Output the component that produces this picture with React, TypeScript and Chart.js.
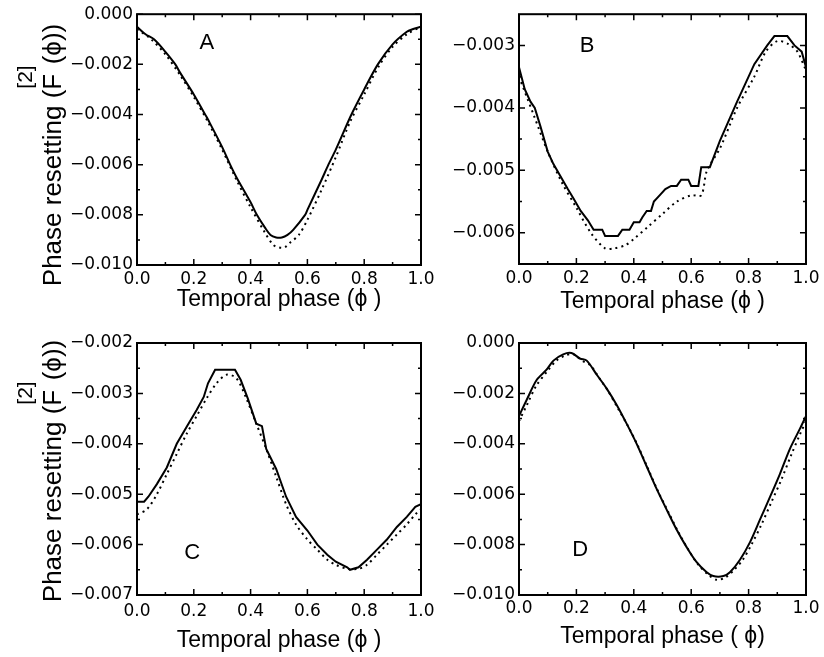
import React, { useEffect, useRef } from 'react';
import { Chart, registerables } from 'chart.js';
Chart.register(...registerables);

// ---------- shared ticks ----------
const xMajorTicks = [0, 0.2, 0.4, 0.6, 0.8, 1.0];
const xMinorTicks = [0.1, 0.3, 0.5, 0.7, 0.9];

// ---------- Panel A ----------
const phaseA_solid = [0, 0.03, 0.06, 0.1, 0.135, 0.15, 0.2, 0.24, 0.25, 0.3, 0.328, 0.35, 0.4, 0.422, 0.45, 0.47, 0.49, 0.51, 0.53, 0.55, 0.592, 0.6, 0.65, 0.674, 0.7, 0.755, 0.8, 0.848, 0.9, 0.95, 0.97, 1.0];
const valueA_solid = [-0.0005, -0.0008, -0.001, -0.0015, -0.002, -0.0023, -0.0032, -0.004, -0.0042, -0.0053, -0.006, -0.0065, -0.0075, -0.008, -0.0085, -0.0088, -0.0089, -0.0089, -0.0088, -0.0086, -0.008, -0.0078, -0.0066, -0.006, -0.0054, -0.004, -0.003, -0.002, -0.0012, -0.0007, -0.0006, -0.0005];
const phaseA_dotted = [0, 0.05, 0.1, 0.15, 0.2, 0.25, 0.3, 0.35, 0.4, 0.45, 0.48, 0.5, 0.52, 0.54, 0.57, 0.6, 0.65, 0.7, 0.75, 0.8, 0.85, 0.9, 0.95, 1.0];
const valueA_dotted = [-0.0006, -0.001, -0.0016, -0.0024, -0.0033, -0.0043, -0.0054, -0.0066, -0.0077, -0.0087, -0.0092, -0.0093, -0.0093, -0.0091, -0.0088, -0.0082, -0.007, -0.0057, -0.0043, -0.0032, -0.0021, -0.0013, -0.0008, -0.0005];
const yMajorA = [0, -0.002, -0.004, -0.006, -0.008, -0.01];
const yMinorA = [-0.001, -0.003, -0.005, -0.007, -0.009];

// ---------- Panel B ----------
const phaseB_solid = [0, 0.02, 0.04, 0.055, 0.075, 0.1, 0.12, 0.145, 0.17, 0.19, 0.215, 0.24, 0.26, 0.29, 0.3, 0.345, 0.36, 0.385, 0.4, 0.42, 0.43, 0.445, 0.46, 0.47, 0.49, 0.51, 0.53, 0.55, 0.565, 0.59, 0.6, 0.625, 0.635, 0.665, 0.7, 0.76, 0.82, 0.865, 0.89, 0.935, 0.96, 0.985, 1.0];
const valueB_solid = [-0.00335, -0.0037, -0.0039, -0.004, -0.0043, -0.0047, -0.0049, -0.0051, -0.0053, -0.00545, -0.00565, -0.0058, -0.00595, -0.00595, -0.00605, -0.00605, -0.00595, -0.00595, -0.00583, -0.00583, -0.00575, -0.00565, -0.00565, -0.0055, -0.0054, -0.0053, -0.00525, -0.00525, -0.00515, -0.00515, -0.00525, -0.00525, -0.00495, -0.00495, -0.00453, -0.0039, -0.0033, -0.003, -0.00285, -0.00285, -0.003, -0.0031, -0.00335];
const phaseB_dotted = [0, 0.05, 0.1, 0.15, 0.2, 0.25, 0.3, 0.33, 0.37, 0.4, 0.45, 0.5, 0.55, 0.6, 0.635, 0.655, 0.7, 0.76, 0.82, 0.86, 0.9, 0.94, 0.97, 1.0];
const valueB_dotted = [-0.0035, -0.0041, -0.0047, -0.0052, -0.0056, -0.006, -0.00625, -0.00625, -0.0062, -0.0061, -0.0059, -0.0057, -0.0055, -0.0054, -0.0054, -0.005, -0.00465, -0.004, -0.0035, -0.0031, -0.00293, -0.00298, -0.0031, -0.0034];
const yMajorB = [-0.003, -0.004, -0.005, -0.006];
const yMinorB = [-0.0035, -0.0045, -0.0055];

// ---------- Panel C ----------
const phaseC_solid = [0, 0.025, 0.04, 0.07, 0.105, 0.14, 0.175, 0.21, 0.235, 0.25, 0.275, 0.345, 0.365, 0.39, 0.42, 0.44, 0.455, 0.49, 0.525, 0.56, 0.6, 0.635, 0.67, 0.7, 0.74, 0.75, 0.78, 0.81, 0.845, 0.88, 0.915, 0.95, 0.98, 1.0];
const valueC_solid = [-0.00515, -0.00515, -0.00505, -0.0048, -0.00447, -0.004, -0.00366, -0.00333, -0.00307, -0.0028, -0.00253, -0.00253, -0.00273, -0.0031, -0.0036, -0.00365, -0.0041, -0.0045, -0.00505, -0.00545, -0.00572, -0.006, -0.0062, -0.00634, -0.00645, -0.0065, -0.00645, -0.0063, -0.0061, -0.0059, -0.00565, -0.00545, -0.00525, -0.0052];
const phaseC_dotted = [0, 0.035, 0.07, 0.105, 0.14, 0.175, 0.21, 0.245, 0.28, 0.315, 0.35, 0.385, 0.42, 0.455, 0.49, 0.525, 0.56, 0.6, 0.635, 0.67, 0.7, 0.74, 0.78, 0.81, 0.845, 0.88, 0.915, 0.95, 0.98, 1.0];
const valueC_dotted = [-0.0054, -0.0053, -0.005, -0.0046, -0.0042, -0.0038, -0.00345, -0.0031, -0.0028, -0.00263, -0.0027, -0.0031, -0.0036, -0.0041, -0.00465, -0.0052, -0.0056, -0.0059, -0.0061, -0.0063, -0.0064, -0.00648, -0.00648, -0.0064, -0.0062, -0.006, -0.0058, -0.0056, -0.0054, -0.0053];
const yMajorC = [-0.002, -0.003, -0.004, -0.005, -0.006, -0.007];
const yMinorC = [-0.0025, -0.0035, -0.0045, -0.0055, -0.0065];

// ---------- Panel D ----------
const phaseD_solid = [0, 0.027, 0.062, 0.096, 0.12, 0.154, 0.183, 0.213, 0.236, 0.271, 0.305, 0.34, 0.375, 0.41, 0.445, 0.48, 0.514, 0.549, 0.584, 0.619, 0.654, 0.677, 0.712, 0.735, 0.77, 0.805, 0.84, 0.875, 0.909, 0.944, 0.979, 1.0];
const valueD_solid = [-0.0029, -0.00225, -0.00146, -0.00106, -0.0007, -0.00045, -0.0004, -0.00062, -0.0007, -0.00126, -0.0018, -0.00245, -0.0032, -0.004, -0.0049, -0.0058, -0.0066, -0.0074, -0.0081, -0.0087, -0.0091, -0.00925, -0.00925, -0.0091, -0.0086, -0.0079, -0.007, -0.0061, -0.0052, -0.0042, -0.0034, -0.0029];
const phaseD_dotted = [0, 0.03, 0.06, 0.1, 0.13, 0.16, 0.19, 0.22, 0.25, 0.28, 0.31, 0.345, 0.38, 0.415, 0.45, 0.485, 0.52, 0.555, 0.59, 0.625, 0.66, 0.69, 0.72, 0.75, 0.78, 0.81, 0.845, 0.88, 0.915, 0.95, 0.98, 1.0];
const valueD_dotted = [-0.0031, -0.0024, -0.0017, -0.0011, -0.0007, -0.0005, -0.00045, -0.0007, -0.0009, -0.0014, -0.0019, -0.0026, -0.0033, -0.0041, -0.005, -0.0059, -0.0067, -0.0075, -0.0082, -0.0088, -0.0092, -0.0094, -0.0093, -0.009, -0.0086, -0.008, -0.0072, -0.0063, -0.0054, -0.0044, -0.0036, -0.0031];
const yMajorD = [0, -0.002, -0.004, -0.006, -0.008, -0.01];
const yMinorD = [-0.001, -0.003, -0.005, -0.007, -0.009];

const panelLetters = ['A', 'B', 'C', 'D'];
const xTitles = ['Temporal phase (\u03D5 )', 'Temporal phase (\u03D5 )', 'Temporal phase (\u03D5 )', 'Temporal phase ( \u03D5)'];
const yTitleMain = 'Phase resetting (F';
const yTitleLead = 'Phase resetting (';
const yTitleSup = '[2]';
const yTitleTail = '(\u03D5))';

const TICK_FONT = { family: '"DejaVu Sans", "Liberation Sans", Arial, sans-serif', size: 17 };
const TITLE_FAMILY = '"Liberation Sans", Arial, Helvetica, sans-serif';

type Panel = {
  letter: string;
  xTitle: string;
  solidX: number[]; solidY: number[];
  dotX: number[]; dotY: number[];
  yMin: number; yMax: number;
  yMajor: number[]; yMinor: number[];
  area: { left: number; top: number; right: number; bottom: number };
  xTickPad: number; xAxisH: number;
  tension: number;
  letterAt: [number, number];
  yTitle: null | { baseX: number; centerY: number };
};

const W = 824, H = 657;

const panels: Panel[] = [
  {
    letter: panelLetters[0], xTitle: xTitles[0],
    solidX: phaseA_solid, solidY: valueA_solid, dotX: phaseA_dotted, dotY: valueA_dotted,
    yMin: -0.01, yMax: 0, yMajor: yMajorA, yMinor: yMinorA,
    area: { left: 137, top: 13, right: 421, bottom: 265 },
    xTickPad: 4, xAxisH: 46.5, tension: 0.3, letterAt: [0.246, -0.00115],
    yTitle: { baseX: 61, centerY: 155 },
  },
  {
    letter: panelLetters[1], xTitle: xTitles[1],
    solidX: phaseB_solid, solidY: valueB_solid, dotX: phaseB_dotted, dotY: valueB_dotted,
    yMin: -0.0065, yMax: -0.0025, yMajor: yMajorB, yMinor: yMinorB,
    area: { left: 519, top: 13, right: 806, bottom: 264 },
    xTickPad: 4.5, xAxisH: 49.5, tension: 0, letterAt: [0.237, -0.00301],
    yTitle: null,
  },
  {
    letter: panelLetters[2], xTitle: xTitles[2],
    solidX: phaseC_solid, solidY: valueC_solid, dotX: phaseC_dotted, dotY: valueC_dotted,
    yMin: -0.007, yMax: -0.002, yMajor: yMajorC, yMinor: yMinorC,
    area: { left: 137, top: 343, right: 421, bottom: 595 },
    xTickPad: 6.5, xAxisH: 57.5, tension: 0, letterAt: [0.194, -0.00617],
    yTitle: { baseX: 61, centerY: 471 },
  },
  {
    letter: panelLetters[3], xTitle: xTitles[3],
    solidX: phaseD_solid, solidY: valueD_solid, dotX: phaseD_dotted, dotY: valueD_dotted,
    yMin: -0.01, yMax: 0, yMajor: yMajorD, yMinor: yMinorD,
    area: { left: 519, top: 343, right: 806, bottom: 595 },
    xTickPad: 3.5, xAxisH: 53.5, tension: 0.3, letterAt: [0.213, -0.00821],
    yTitle: null,
  },
];

const fmtY = (v: number) => {
  if (Math.abs(v) < 1e-12) return '0.000';
  return (v < 0 ? '\u2212' : '') + Math.abs(v).toFixed(3);
};

const decorPlugin = {
  id: 'decor',
  afterDatasetsDraw(chart: any, _args: any, opts: any) {
    const { ctx, chartArea } = chart;
    const { left, top, right, bottom } = chartArea;
    const xs = chart.scales.x;
    const ys = chart.scales.y;
    ctx.save();
    ctx.strokeStyle = '#000';
    ctx.lineWidth = 1.5;
    const major = 6, minor = 3;
    const vTick = (v: number, len: number) => {
      const px = xs.getPixelForValue(v);
      ctx.beginPath();
      ctx.moveTo(px, bottom); ctx.lineTo(px, bottom - len);
      ctx.moveTo(px, top); ctx.lineTo(px, top + len);
      ctx.stroke();
    };
    const hTick = (v: number, len: number) => {
      const py = ys.getPixelForValue(v);
      ctx.beginPath();
      ctx.moveTo(left, py); ctx.lineTo(left + len, py);
      ctx.moveTo(right, py); ctx.lineTo(right - len, py);
      ctx.stroke();
    };
    opts.xMajor.forEach((v: number) => vTick(v, major));
    opts.xMinor.forEach((v: number) => vTick(v, minor));
    opts.yMajor.forEach((v: number) => hTick(v, major));
    opts.yMinor.forEach((v: number) => hTick(v, minor));
    ctx.lineWidth = 2;
    ctx.strokeRect(left, top, right - left, bottom - top);

    // panel letter
    ctx.fillStyle = '#000';
    ctx.font = `22px ${TITLE_FAMILY}`;
    ctx.textAlign = 'center';
    ctx.textBaseline = 'middle';
    ctx.fillText(opts.letter, xs.getPixelForValue(opts.letterAt[0]), ys.getPixelForValue(opts.letterAt[1]));

    // y title with superscript
    if (opts.yTitle) {
      const { baseX, centerY } = opts.yTitle;
      ctx.translate(baseX, centerY);
      ctx.rotate(-Math.PI / 2);
      ctx.textAlign = 'left';
      ctx.textBaseline = 'alphabetic';
      ctx.font = `26px ${TITLE_FAMILY}`;
      const w1 = ctx.measureText(yTitleMain).width;
      const w1a = ctx.measureText(yTitleLead).width;
      const w3 = ctx.measureText(yTitleTail).width;
      ctx.font = `21px ${TITLE_FAMILY}`;
      const wSup = ctx.measureText(yTitleSup).width;
      const supStart = w1a + 1;
      const tailStart = Math.max(w1, supStart + wSup) + 1;
      const total = tailStart + w3;
      const s = -total / 2;
      ctx.font = `26px ${TITLE_FAMILY}`;
      ctx.fillText(yTitleMain, s, 0);
      ctx.fillText(yTitleTail, s + tailStart, 0);
      ctx.font = `21px ${TITLE_FAMILY}`;
      ctx.fillText(yTitleSup, s + supStart, -29);
    }
    ctx.restore();
  },
};

function PanelChart({ panel }: { panel: Panel }) {
  const ref = useRef<HTMLCanvasElement | null>(null);
  useEffect(() => {
    if (!ref.current) return;
    const yAxisW = 100;
    const p = panel;
    const chart = new Chart(ref.current, {
      type: 'line',
      data: {
        datasets: [
          {
            data: p.solidX.map((x, i) => ({ x, y: p.solidY[i] })),
            borderColor: '#000',
            borderWidth: 2,
            pointRadius: 0,
            tension: p.tension,
            fill: false,
          },
          {
            data: p.dotX.map((x, i) => ({ x, y: p.dotY[i] })),
            borderColor: '#000',
            borderWidth: 2,
            borderDash: [2, 4],
            pointRadius: 0,
            tension: 0.3,
            fill: false,
          },
        ],
      },
      options: {
        animation: false,
        responsive: false,
        devicePixelRatio: 1,
        layout: {
          padding: {
            left: p.area.left - yAxisW,
            top: p.area.top,
            right: W - p.area.right,
            bottom: H - p.area.bottom - p.xAxisH,
          },
        },
        plugins: {
          legend: { display: false },
          tooltip: { enabled: false },
          decor: {
            xMajor: xMajorTicks, xMinor: xMinorTicks,
            yMajor: p.yMajor, yMinor: p.yMinor,
            letter: p.letter, letterAt: p.letterAt, yTitle: p.yTitle,
          },
        } as any,
        scales: {
          x: {
            type: 'linear',
            min: 0,
            max: 1,
            afterBuildTicks: (s: any) => { s.ticks = xMajorTicks.map((v) => ({ value: v })); },
            afterFit: (s: any) => { s.height = p.xAxisH; },
            grid: { display: false, drawTicks: false },
            border: { display: false },
            ticks: {
              color: '#000',
              font: TICK_FONT,
              padding: p.xTickPad,
              maxRotation: 0,
              autoSkip: false,
              callback: (v: any) => Number(v).toFixed(1),
            },
            title: {
              display: true,
              text: p.xTitle,
              color: '#000',
              font: { family: TITLE_FAMILY, size: 23, lineHeight: 1 },
              padding: 0,
            },
          },
          y: {
            type: 'linear',
            min: p.yMin,
            max: p.yMax,
            afterBuildTicks: (s: any) => { s.ticks = [...p.yMajor].sort((a, b) => a - b).map((v) => ({ value: v })); },
            afterFit: (s: any) => { s.width = yAxisW; },
            grid: { display: false, drawTicks: false },
            border: { display: false },
            ticks: {
              color: '#000',
              font: TICK_FONT,
              padding: 4,
              autoSkip: false,
              callback: (v: any) => fmtY(Number(v)),
            },
          },
        },
      },
      plugins: [decorPlugin],
    } as any);
    return () => chart.destroy();
  }, [panel]);
  return (
    <canvas
      ref={ref}
      width={W}
      height={H}
      style={{ position: 'absolute', left: 0, top: 0, width: W, height: H }}
    />
  );
}

export default function App() {
  return (
    <div style={{ position: 'fixed', left: 0, top: 0, width: W, height: H, background: '#fff' }}>
      {panels.map((p) => (
        <PanelChart key={p.letter} panel={p} />
      ))}
    </div>
  );
}
